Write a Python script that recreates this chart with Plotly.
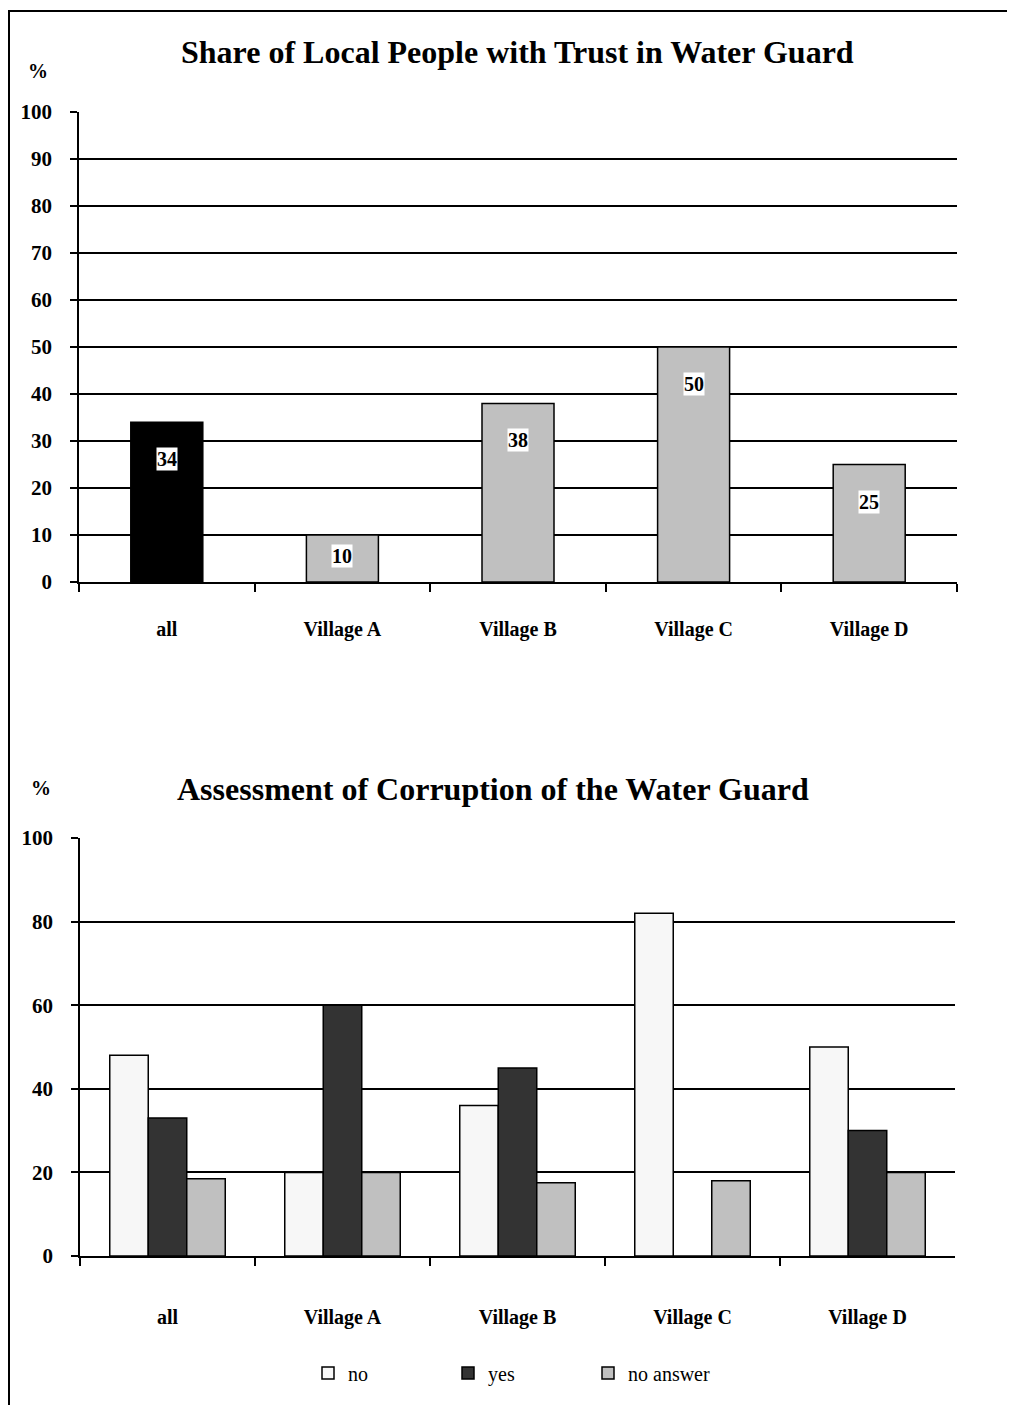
import plotly.graph_objects as go

# ---------------- data ----------------
categories = ["all", "Village A", "Village B", "Village C", "Village D"]

trust_values = [34, 10, 38, 50, 25]
trust_labels = ["34", "10", "38", "50", "25"]
trust_colors = ["#000000", "#C0C0C0", "#C0C0C0", "#C0C0C0", "#C0C0C0"]

corr_no = [48, 20, 36, 82, 50]
corr_yes = [33, 60, 45, 0, 30]
corr_noanswer = [18.5, 20, 17.5, 18, 20]

series_names = ["no", "yes", "no answer"]
series_colors = ["#F7F7F7", "#333333", "#C0C0C0"]

top_yticks = [0, 10, 20, 30, 40, 50, 60, 70, 80, 90, 100]
bottom_yticks = [0, 20, 40, 60, 80, 100]

title_top = "Share of Local People with Trust in Water Guard"
title_bottom = "Assessment of Corruption of the Water Guard"

# ---------------- figure ----------------
OFF = 8  # page body margin
W, H = 1015 - OFF, 1405 - OFF
FONT = "Liberation Serif"


def px_x(p):
    return (p - OFF) / W


def px_y(p):
    return 1 - (p - OFF) / H


TOP_PX_PER_UNIT = (582 - 112) / 100.0

fig = go.Figure()

fig.add_trace(go.Bar(
    x=categories, y=trust_values, xaxis="x", yaxis="y",
    marker=dict(color=trust_colors, line=dict(color="black", width=1.5)),
    width=0.41, showlegend=False, hoverinfo="skip",
))

for name, vals, col in zip(series_names, [corr_no, corr_yes, corr_noanswer], series_colors):
    fig.add_trace(go.Bar(
        x=categories, y=vals, xaxis="x2", yaxis="y2", name=name,
        marker=dict(color=col, line=dict(color="black", width=1.5)),
    ))

annotations = []
for c, v, t in zip(categories, trust_values, trust_labels):
    annotations.append(dict(
        x=c, y=v, xref="x", yref="y", text=t, showarrow=False,
        yshift=-min(37, v * TOP_PX_PER_UNIT / 2 - 3), bgcolor="white", borderpad=0,
        font=dict(family=FONT, size=20, color="black", weight="bold"),
    ))

annotations += [
    dict(x=px_x(518), y=px_y(52), xref="paper", yref="paper", text=title_top,
         showarrow=False, xanchor="center", yanchor="middle",
         font=dict(family=FONT, size=32, color="black", weight="bold")),
    dict(x=px_x(493), y=px_y(789), xref="paper", yref="paper", text=title_bottom,
         showarrow=False, xanchor="center", yanchor="middle",
         font=dict(family=FONT, size=32, color="black", weight="bold")),
    dict(x=px_x(38), y=px_y(71), xref="paper", yref="paper", text="%",
         showarrow=False, xanchor="center", yanchor="middle",
         font=dict(family=FONT, size=20, color="black", weight="bold")),
    dict(x=px_x(41), y=px_y(788), xref="paper", yref="paper", text="%",
         showarrow=False, xanchor="center", yanchor="middle",
         font=dict(family=FONT, size=20, color="black", weight="bold")),
]

tickfont = dict(family=FONT, size=21, color="black", weight="bold")
catfont = dict(family=FONT, size=20, color="black", weight="bold")

xaxis_common = dict(
    type="category", showline=True, linecolor="black", linewidth=1.5,
    ticks="outside", tickson="boundaries", ticklen=8, tickcolor="black", tickwidth=1.5,
    showgrid=False, zeroline=False, tickfont=catfont, automargin=False,
    fixedrange=True,
)
yaxis_common = dict(
    showline=True, linecolor="black", linewidth=1.5,
    ticks="outside", ticklen=7, tickcolor="black", tickwidth=1.5,
    showgrid=True, gridcolor="black", gridwidth=1.5, zeroline=False,
    tickfont=tickfont, automargin=False, fixedrange=True,
)

fig.update_layout(
    template="none",
    width=W, height=H,
    margin=dict(l=0, r=0, t=0, b=0),
    paper_bgcolor="white", plot_bgcolor="white",
    barmode="group", bargap=0.34, bargroupgap=0,
    xaxis=dict(xaxis_common, domain=[px_x(79), px_x(957)], anchor="y",
               ticklabelstandoff=28),
    yaxis=dict(yaxis_common, domain=[px_y(582), px_y(112)], anchor="x",
               range=[0, 100], tickvals=top_yticks, ticklabelstandoff=14),
    xaxis2=dict(xaxis_common, domain=[px_x(80), px_x(955)], anchor="y2",
                ticklabelstandoff=42),
    yaxis2=dict(yaxis_common, domain=[px_y(1256), px_y(838)], anchor="x2",
                range=[0, 100], tickvals=bottom_yticks, ticklabelstandoff=14),
    showlegend=True,
    legend=dict(orientation="h", x=px_x(308), y=px_y(1373), xanchor="left", yanchor="middle",
                font=dict(family=FONT, size=20, color="black"),
                entrywidth=95, entrywidthmode="pixels", bgcolor="rgba(0,0,0,0)"),
    annotations=annotations,
    shapes=[dict(type="rect", xref="paper", yref="paper",
                 x0=px_x(9), x1=1.02, y0=px_y(11), y1=-0.02,
                 line=dict(color="black", width=2), fillcolor="rgba(0,0,0,0)")],
)

fig.write_html("out.html")
